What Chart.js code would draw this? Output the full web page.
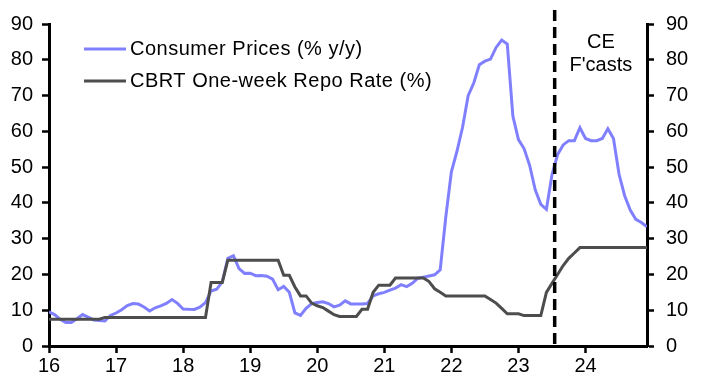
<!DOCTYPE html>
<html>
<head>
<meta charset="utf-8">
<script src="https://cdn.jsdelivr.net/npm/chart.js@4"></script>
<style>
  html, body { margin: 0; padding: 0; background: #fff; }
  #wrap { width: 703px; height: 384px; position: relative; }
</style>
</head>
<body>
<div id="wrap"><canvas id="turkeyChart"></canvas></div>
<script>
// Monthly data, Jan 2016 - Dec 2024 (x axis in years, "16" = 2016)
const startYear = 16;
const xTickYears = [16, 17, 18, 19, 20, 21, 22, 23, 24];
const yTicks = [0, 10, 20, 30, 40, 50, 60, 70, 80, 90];
const forecastStart = 23.54;
const forecastLabel = ['CE', "F'casts"];

const cpiLabel = 'Consumer Prices (% y/y)';
const cpi = [
  9.58, 8.78, 7.46, 6.57, 6.58, 7.64, 8.79, 8.05, 7.28, 7.16, 7.00, 8.53,
  9.22, 10.13, 11.29, 11.87, 11.72, 10.90, 9.79, 10.68, 11.20, 11.90, 12.98, 11.92,
  10.35, 10.26, 10.23, 10.85, 12.15, 15.39, 15.85, 17.90, 24.52, 25.24, 21.62, 20.30,
  20.35, 19.67, 19.71, 19.50, 18.71, 15.72, 16.65, 15.01, 9.26, 8.55, 10.56, 11.84,
  12.15, 12.37, 11.86, 10.94, 11.39, 12.62, 11.76, 11.77, 11.75, 11.89, 14.03, 14.60,
  14.97, 15.61, 16.19, 17.14, 16.59, 17.53, 18.95, 19.25, 19.58, 19.89, 21.31, 36.08,
  48.69, 54.44, 61.14, 69.97, 73.50, 78.62, 79.60, 80.21, 83.45, 85.51, 84.39, 64.27,
  57.68, 55.18, 50.51, 43.68, 39.59, 38.21, 47.83, 53.5, 56.2, 57.4, 57.4, 61.0,
  58.0, 57.4, 57.4, 58.0, 60.7, 58.0, 48.0, 42.0, 38.0, 35.4, 34.5, 33.3
];

const repoLabel = 'CBRT One-week Repo Rate (%)';
const repo = [
  7.5, 7.5, 7.5, 7.5, 7.5, 7.5, 7.5, 7.5, 7.5, 7.5, 8, 8,
  8, 8, 8, 8, 8, 8, 8, 8, 8, 8, 8, 8,
  8, 8, 8, 8, 8, 17.75, 17.75, 17.75, 24, 24, 24, 24,
  24, 24, 24, 24, 24, 24, 19.75, 19.75, 16.5, 14, 14, 12,
  11.25, 10.75, 9.75, 8.75, 8.25, 8.25, 8.25, 8.25, 10.25, 10.25, 15, 17,
  17, 17, 19, 19, 19, 19, 19, 19, 18, 16, 15, 14,
  14, 14, 14, 14, 14, 14, 14, 13, 12, 10.5, 9, 9,
  9, 8.5, 8.5, 8.5, 8.5, 15, 17.5, 20, 22.5, 24.5, 26, 27.5,
  27.5, 27.5, 27.5, 27.5, 27.5, 27.5, 27.5, 27.5, 27.5, 27.5, 27.5, 27.5
];

const toPoints = (arr) => arr.map((v, i) => ({ x: startYear + i / 12, y: v }));

const FONT = { family: "'Liberation Sans', Arial, sans-serif", size: 20 };
const cpiColor = '#8080ff';
const repoColor = '#4d4d4d';

// Custom legend, dashed forecast line and its label
const overlay = {
  id: 'overlay',
  afterDatasetsDraw(chart) {
    const { ctx, chartArea, scales } = chart;
    const fx = scales.x.getPixelForValue(forecastStart);

    ctx.save();
    ctx.strokeStyle = '#000';
    ctx.lineWidth = 3.5;
    ctx.setLineDash([11, 6]);
    ctx.beginPath();
    ctx.moveTo(fx, 10);
    ctx.lineTo(fx, chartArea.bottom - 2);
    ctx.stroke();
    ctx.setLineDash([]);

    ctx.font = `${FONT.size}px ${FONT.family}`;
    ctx.fillStyle = '#000';
    ctx.textAlign = 'center';
    ctx.textBaseline = 'middle';
    const cx = (fx + chartArea.right) / 2;
    ctx.fillText(forecastLabel[0], cx, 42);
    ctx.fillText(forecastLabel[1], cx, 65);

    const items = [
      { label: cpiLabel, color: cpiColor, y: 49 },
      { label: repoLabel, color: repoColor, y: 81 },
    ];
    ctx.textAlign = 'left';
    ctx.letterSpacing = '0.5px';
    items.forEach((it) => {
      ctx.strokeStyle = it.color;
      ctx.lineWidth = 3;
      ctx.beginPath();
      ctx.moveTo(84, it.y);
      ctx.lineTo(126, it.y);
      ctx.stroke();
      ctx.fillStyle = '#000';
      ctx.fillText(it.label, 130, it.y);
    });
    ctx.restore();
  },
};

const axisStyle = {
  grid: { drawOnChartArea: false, drawTicks: true, tickLength: 7, tickColor: '#000', tickWidth: 2.5 },
  border: { color: '#000', width: 3 },
};

new Chart(document.getElementById('turkeyChart'), {
  type: 'line',
  data: {
    datasets: [
      {
        label: cpiLabel,
        data: toPoints(cpi),
        borderColor: cpiColor,
        borderWidth: 3,
        pointRadius: 0,
        tension: 0,
        order: 1,
      },
      {
        label: repoLabel,
        data: toPoints(repo),
        borderColor: repoColor,
        borderWidth: 3,
        pointRadius: 0,
        tension: 0,
        order: 0,
      },
    ],
  },
  options: {
    responsive: true,
    maintainAspectRatio: false,
    animation: false,
    layout: { padding: { top: 16, left: 0, right: 0, bottom: 0 } },
    plugins: { legend: { display: false }, tooltip: { enabled: false } },
    scales: {
      x: {
        type: 'linear',
        min: startYear,
        max: startYear + (cpi.length - 1) / 12,
        ...axisStyle,
        ticks: { font: FONT, color: '#000', padding: 1, maxRotation: 0 },
        afterBuildTicks: (s) => { s.ticks = xTickYears.map((v) => ({ value: v })); },
        afterFit: (s) => { s.height = 38; },
      },
      y: {
        position: 'left',
        min: 0,
        max: 90,
        ...axisStyle,
        ticks: { font: FONT, color: '#000', padding: 9 },
        afterBuildTicks: (s) => { s.ticks = yTicks.map((v) => ({ value: v })); },
        afterFit: (s) => { s.width = 49; },
      },
      y2: {
        position: 'right',
        min: 0,
        max: 90,
        ...axisStyle,
        ticks: { font: FONT, color: '#000', padding: 12 },
        afterBuildTicks: (s) => { s.ticks = yTicks.map((v) => ({ value: v })); },
        afterFit: (s) => { s.width = 56; },
      },
    },
  },
  plugins: [overlay],
});
</script>
</body>
</html>
